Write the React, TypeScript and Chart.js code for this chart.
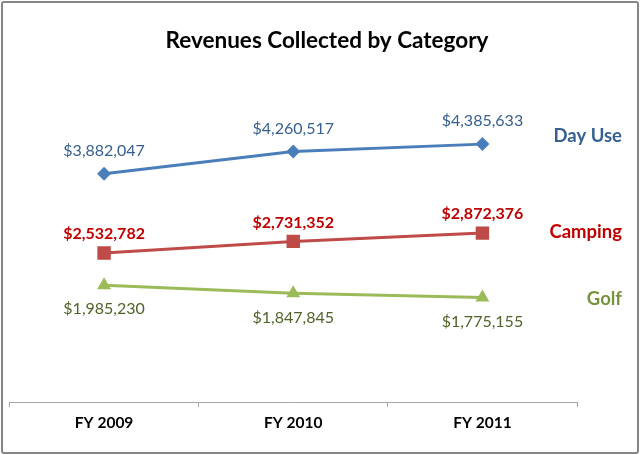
import React, { useEffect, useRef } from "react";
import { Chart, registerables } from "chart.js";

Chart.register(...registerables);

const categories = ["FY 2009", "FY 2010", "FY 2011"];
const seriesNames = ["Day Use", "Camping", "Golf"];
const dayUse = [3882047, 4260517, 4385633];
const camping = [2532782, 2731352, 2872376];
const golf = [1985230, 1847845, 1775155];

const FONT = "Lato, 'Open Sans', sans-serif";

const styles = [
  { line: "#4A7EBB", label: "#376092", name: "#376092", point: "rectRot", radius: 7, labelOffset: -23, labelBold: false, nameOffset: -8 },
  { line: "#BE4B48", label: "#C00000", name: "#C00000", point: "rect", radius: 9.5, labelOffset: -19, labelBold: true, nameOffset: -1 },
  { line: "#9BBB59", label: "#4F6228", name: "#77933C", point: "triangle", radius: 8, labelOffset: 24, labelBold: false, nameOffset: 1 },
];

const fmt = (v: number) => "$" + v.toLocaleString("en-US");

const labelPlugin = {
  id: "labels",
  afterDatasetsDraw(chart: any) {
    const ctx = chart.ctx;
    ctx.save();
    // title
    ctx.fillStyle = "#000";
    ctx.font = `bold 22.5px ${FONT}`;
    ctx.textAlign = "center";
    ctx.textBaseline = "middle";
    ctx.fillText("Revenues Collected by Category", 327, 41);

    chart.data.datasets.forEach((ds: any, i: number) => {
      const meta = chart.getDatasetMeta(i);
      const st = styles[i];
      ctx.fillStyle = st.label;
      ctx.font = `${st.labelBold ? "bold " : ""}16px ${FONT}`;
      ctx.textAlign = "center";
      ctx.textBaseline = "middle";
      meta.data.forEach((pt: any, j: number) => {
        ctx.fillText(fmt(ds.data[j]), pt.x, pt.y + st.labelOffset);
      });
      const last = meta.data[meta.data.length - 1];
      ctx.fillStyle = st.name;
      ctx.font = `bold 18.5px ${FONT}`;
      ctx.textAlign = "right";
      ctx.fillText(ds.label, 622, last.y + st.nameOffset);
    });
    ctx.restore();
  },
};

export default function App() {
  const ref = useRef<HTMLCanvasElement | null>(null);
  useEffect(() => {
    if (!ref.current) return;
    const seriesValues = [dayUse, camping, golf];
    const chart = new Chart(ref.current, {
      type: "line",
      data: {
        labels: categories,
        datasets: seriesValues.map((vals, i) => ({
          label: seriesNames[i],
          data: vals,
          borderColor: styles[i].line,
          backgroundColor: styles[i].line,
          borderWidth: 3,
          pointStyle: styles[i].point as any,
          pointRadius: styles[i].radius,
          pointBorderWidth: 0,
          pointBackgroundColor: styles[i].line,
          tension: 0,
        })),
      },
      options: {
        responsive: false,
        animation: false,
        layout: { padding: { left: 7, right: 63, top: 108, bottom: 0 } },
        plugins: { legend: { display: false }, title: { display: false }, tooltip: { enabled: false } },
        scales: {
          y: { display: false, min: 0, max: 5000000 },
          x: {
            offset: true,
            afterFit: (scale: any) => { scale.height = 53; },
            border: { display: true, color: "#A6A6A6", width: 1 },
            grid: { offset: true, drawOnChartArea: false, drawTicks: true, tickLength: 5, color: "#A6A6A6" },
            ticks: { color: "#000", font: { family: FONT, size: 15.5, weight: "bold" }, padding: 7 },
          },
        },
      },
      plugins: [labelPlugin],
    });
    return () => chart.destroy();
  }, []);
  return (
    <div style={{ position: "fixed", left: 0, top: 0, width: 640, height: 455, background: "#fff" }}>
      <canvas ref={ref} width={640} height={455} style={{ position: "absolute", left: 0, top: 0 }} />
      <div
        style={{
          position: "absolute",
          left: 1,
          top: 1,
          width: 638,
          height: 453,
          boxSizing: "border-box",
          border: "2px solid #868686",
          borderRadius: 3,
          pointerEvents: "none",
        }}
      />
    </div>
  );
}
